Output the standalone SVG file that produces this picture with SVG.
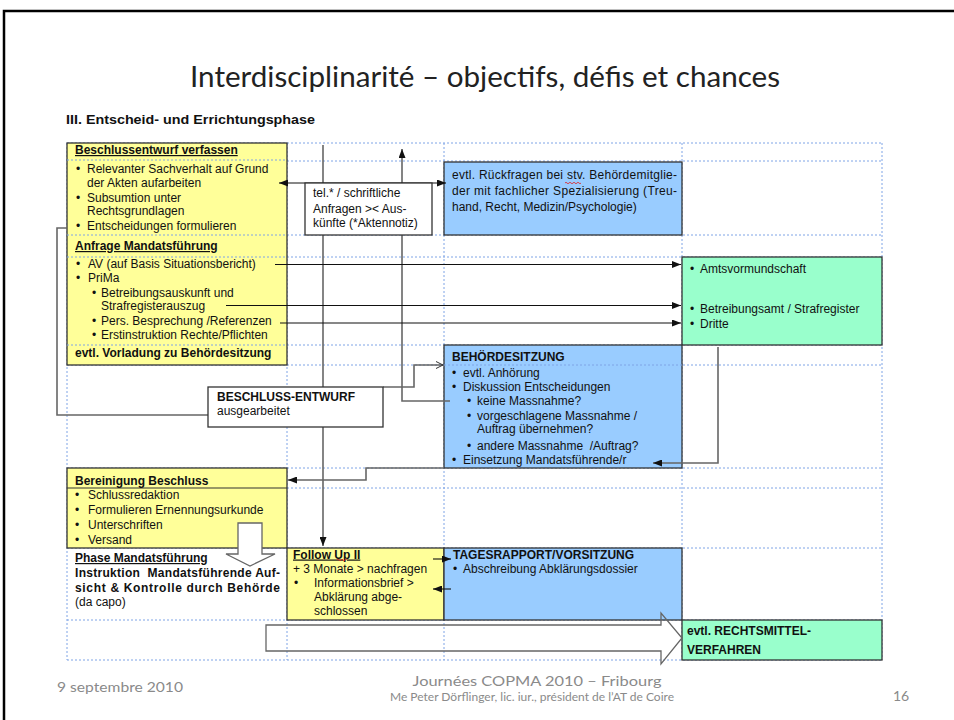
<svg xmlns="http://www.w3.org/2000/svg" width="954" height="720" viewBox="0 0 954 720">
<defs>
<style>
.t{font-family:"Liberation Sans",Arial,sans-serif;font-size:12px;fill:#111}
.b{font-weight:bold}
.u{text-decoration:underline}
.box{stroke:#333;stroke-width:1.3}
.y{fill:#ffff99}
.bl{fill:#99ccff}
.g{fill:#99ffcc}
.w{fill:#fff}
.grid line{stroke:#7fa4e6;stroke-width:1;stroke-dasharray:2 2}
.dash{stroke:#7fa4e6;stroke-width:1;stroke-dasharray:2 2}
.cg{fill:none;stroke:#666;stroke-width:1.6}
.ck{fill:none;stroke:#111;stroke-width:1.1}
.ft{font-family:Lato,"Open Sans",sans-serif;fill:#8a8a8a}
.sq{fill:none;stroke:#e02020;stroke-width:0.8}
</style>
<marker id="ah" markerWidth="9" markerHeight="7" refX="9" refY="3.5" orient="auto-start-reverse" markerUnits="userSpaceOnUse"><path d="M0,0 L9,3.5 L0,7 z" fill="#111"/></marker>
<marker id="oa" markerWidth="8" markerHeight="8" refX="7" refY="4" orient="auto" markerUnits="userSpaceOnUse"><path d="M0,0.5 L7,4 L0,7.5" fill="none" stroke="#333" stroke-width="1"/></marker>
</defs>
<rect x="0" y="0" width="954" height="720" fill="#fff"/>
<path d="M4,720 V11 H954" fill="none" stroke="#000" stroke-width="2.5"/>

<text x="485" y="87" text-anchor="middle" font-family="Lato,'Open Sans',sans-serif" font-size="28" fill="#222" textLength="590" lengthAdjust="spacingAndGlyphs">Interdisciplinarité – objectifs, défis et chances</text>
<text x="66" y="124" class="t b" font-size="12.5" textLength="249" lengthAdjust="spacingAndGlyphs">III. Entscheid- und Errichtungsphase</text>

<g class="grid">
<line x1="67" y1="143" x2="67" y2="660"/>
<line x1="287" y1="143" x2="287" y2="660"/>
<line x1="444" y1="143" x2="444" y2="660"/>
<line x1="682" y1="143" x2="682" y2="660"/>
<line x1="882" y1="143" x2="882" y2="660"/>
<line x1="67" y1="143" x2="882" y2="143"/>
<line x1="67" y1="161" x2="882" y2="161"/>
<line x1="67" y1="235" x2="882" y2="235"/>
<line x1="67" y1="257" x2="882" y2="257"/>
<line x1="67" y1="345" x2="882" y2="345"/>
<line x1="67" y1="365" x2="882" y2="365"/>
<line x1="67" y1="468" x2="882" y2="468"/>
<line x1="67" y1="488" x2="882" y2="488"/>
<line x1="67" y1="548" x2="882" y2="548"/>
<line x1="67" y1="620" x2="882" y2="620"/>
<line x1="67" y1="660" x2="882" y2="660"/>
</g>

<g id="n-beschlussentwurf">
<rect class="box y" x="67" y="143" width="220" height="222"/>
<line class="dash" x1="67" y1="160" x2="287" y2="160"/>
<line class="dash" x1="67" y1="235" x2="287" y2="235"/>
<line class="dash" x1="67" y1="257" x2="287" y2="257"/>
<line class="dash" x1="67" y1="345" x2="287" y2="345"/>
<text class="t b u" x="75" y="154">Beschlussentwurf verfassen</text>
<text class="t" x="76" y="173">•</text><text class="t" x="87" y="173">Relevanter Sachverhalt auf Grund</text>
<text class="t" x="87" y="187">der Akten aufarbeiten</text>
<text class="t" x="76" y="201.5">•</text><text class="t" x="87" y="201.5">Subsumtion unter</text>
<text class="t" x="87" y="215">Rechtsgrundlagen</text>
<text class="t" x="76" y="229.5">•</text><text class="t" x="87" y="229.5">Entscheidungen formulieren</text>
<text class="t b u" x="75" y="250">Anfrage Mandatsführung</text>
<text class="t" x="76" y="267.5">•</text><text class="t" x="88" y="267.5">AV (auf Basis Situationsbericht)</text>
<text class="t" x="76" y="281.5">•</text><text class="t" x="88" y="281.5">PriMa</text>
<text class="t" x="92" y="296.5">•</text><text class="t" x="101" y="296.5">Betreibungsauskunft und</text>
<text class="t" x="101" y="309.5">Strafregisterauszug</text>
<text class="t" x="92" y="324.5">•</text><text class="t" x="101" y="324.5">Pers. Besprechung /Referenzen</text>
<text class="t" x="92" y="338.5">•</text><text class="t" x="101" y="338.5">Erstinstruktion Rechte/Pflichten</text>
<text class="t b" x="75" y="357">evtl. Vorladung zu Behördesitzung</text>
</g>

<g id="n-rueckfragen">
<rect class="box bl" x="444" y="162" width="238" height="73"/>
<text class="t" x="452" y="178.5" textLength="225" lengthAdjust="spacing">evtl. Rückfragen bei stv. Behördemitglie-</text>
<text class="t" x="452" y="194.5" textLength="225" lengthAdjust="spacing">der mit fachlicher Spezialisierung (Treu-</text>
<text class="t" x="452" y="210.5">hand, Recht, Medizin/Psychologie)</text>
<path class="sq" d="M565,183 q1,-1.5 2,0 t2,0 t2,0 t2,0 t2,0 t2,0 t2,0 t2,0"/>
</g>

<g id="n-behoerden">
<rect class="box g" x="682" y="257" width="200" height="88"/>
<text class="t" x="690" y="273">•</text><text class="t" x="700" y="273">Amtsvormundschaft</text>
<text class="t" x="690" y="312.5">•</text><text class="t" x="700" y="312.5">Betreibungsamt / Strafregister</text>
<text class="t" x="690" y="328">•</text><text class="t" x="700" y="328">Dritte</text>
</g>

<g id="n-behoerdesitzung">
<rect class="box bl" x="444" y="345" width="238" height="123"/>
<line class="dash" x1="444" y1="365" x2="682" y2="365"/>
<text class="t b" x="452" y="361">BEHÖRDESITZUNG</text>
<text class="t" x="452" y="377">•</text><text class="t" x="463" y="377">evtl. Anhörung</text>
<text class="t" x="452" y="391">•</text><text class="t" x="463" y="391">Diskussion Entscheidungen</text>
<text class="t" x="467" y="405">•</text><text class="t" x="477" y="405">keine Massnahme?</text>
<text class="t" x="467" y="420">•</text><text class="t" x="477" y="420">vorgeschlagene Massnahme /</text>
<text class="t" x="477" y="433">Auftrag übernehmen?</text>
<text class="t" x="467" y="449.5">•</text><text class="t" x="477" y="449.5" xml:space="preserve">andere Massnahme  /Auftrag?</text>
<text class="t" x="452" y="463.5">•</text><text class="t" x="463" y="463.5">Einsetzung Mandatsführende/r</text>
</g>

<g id="n-bereinigung">
<rect class="box y" x="67" y="468" width="220" height="80"/>
<line x1="67" y1="488" x2="287" y2="488" stroke="#333" stroke-width="1.2"/>
<text class="t b" x="75" y="485">Bereinigung Beschluss</text>
<text class="t" x="75" y="499">•</text><text class="t" x="88" y="499">Schlussredaktion</text>
<text class="t" x="75" y="514">•</text><text class="t" x="88" y="514">Formulieren Ernennungsurkunde</text>
<text class="t" x="75" y="529">•</text><text class="t" x="88" y="529">Unterschriften</text>
<text class="t" x="75" y="543.5">•</text><text class="t" x="88" y="543.5">Versand</text>
</g>

<g id="n-followup">
<rect class="box y" x="287" y="548" width="157" height="72"/>
<text class="t b u" x="293" y="558.5">Follow Up II</text>
<path class="sq" d="M337,560 q1,-1.5 2,0 t2,0 t2,0 t2,0 t2,0"/>
<text class="t" x="293" y="573">+ 3 Monate &gt; nachfragen</text>
<text class="t" x="294" y="587">•</text><text class="t" x="314" y="587">Informationsbrief &gt;</text>
<text class="t" x="314" y="601">Abklärung abge-</text>
<text class="t" x="314" y="614.5">schlossen</text>
</g>

<g id="n-tagesrapport">
<rect class="box bl" x="444" y="548" width="238" height="72"/>
<text class="t b" x="453" y="558.5">TAGESRAPPORT/VORSITZUNG</text>
<text class="t" x="453" y="573">•</text><text class="t" x="463" y="573">Abschreibung Abklärungsdossier</text>
</g>

<g id="n-rechtsmittel">
<rect class="box g" x="682" y="620" width="200" height="40"/>
<text class="t b" x="687" y="635">evtl. RECHTSMITTEL-</text>
<text class="t b" x="687" y="654">VERFAHREN</text>
</g>

<g id="connectors">
<path class="cg" d="M323,145 V546" marker-end="url(#ah)"/>
<path class="cg" d="M450,401 H402 V149" marker-end="url(#ah)"/>
<path class="ck" d="M279,183 H446" marker-start="url(#ah)" marker-end="url(#ah)"/>
<path class="ck" d="M275,264.5 H681" marker-end="url(#ah)"/>
<path class="ck" d="M226,305.5 H681" marker-end="url(#ah)"/>
<path class="ck" d="M280,323 H681" marker-end="url(#ah)"/>
<path class="cg" d="M67,228 H57 V415 H208"/>
<path class="cg" d="M383,387 H414 V365 H443" marker-end="url(#oa)"/>
<path class="cg" d="M718,347 V463 H653" marker-end="url(#ah)"/>
<path class="cg" d="M444,468 H366 V480 H288" marker-end="url(#ah)"/>
<path class="ck" d="M433,559 H451" marker-end="url(#ah)"/>
<path class="ck" d="M451,589 H433" marker-end="url(#ah)"/>
<polygon points="238,523 262,523 262,554 275,554 250,566 226,554 238,554" fill="#fff" stroke="#666" stroke-width="1.3"/>
<polygon points="266,625 661,625 661,613 682,638 661,664 661,651 266,651" fill="none" stroke="#666" stroke-width="1.3"/>
</g>

<g id="n-tel">
<rect class="box w" x="305" y="183" width="127" height="52"/>
<text class="t" x="313" y="197">tel.* / schriftliche</text>
<text class="t" x="313" y="212.5">Anfragen &gt;&lt; Aus-</text>
<text class="t" x="313" y="227">künfte (*Aktennotiz)</text>
</g>

<g id="n-beschluss-entwurf">
<rect class="box w" x="208" y="387" width="175" height="40"/>
<text class="t b" x="217" y="401">BESCHLUSS-ENTWURF</text>
<text class="t" x="217" y="414.5">ausgearbeitet</text>
</g>

<g id="n-phase">
<text class="t b u" x="75" y="562">Phase Mandatsführung</text>
<text class="t b" x="75" y="577" textLength="205" lengthAdjust="spacing" xml:space="preserve">Instruktion  Mandatsführende Auf-</text>
<text class="t b" x="75" y="592" textLength="205" lengthAdjust="spacing">sicht &amp; Kontrolle durch Behörde</text>
<text class="t" x="75" y="606">(da capo)</text>
</g>

<g id="footer">
<text class="ft" x="57" y="692" font-size="14" textLength="126" lengthAdjust="spacingAndGlyphs">9 septembre 2010</text>
<text class="ft" x="537" y="686" font-size="14" text-anchor="middle" textLength="249" lengthAdjust="spacingAndGlyphs">Journées COPMA 2010 – Fribourg</text>
<text class="ft" x="532" y="701" font-size="10.5" text-anchor="middle" textLength="284" lengthAdjust="spacingAndGlyphs">Me Peter Dörflinger, lic. iur., président de l’AT de Coire</text>
<text class="ft" x="893" y="701" font-size="14">16</text>
</g>
</svg>
